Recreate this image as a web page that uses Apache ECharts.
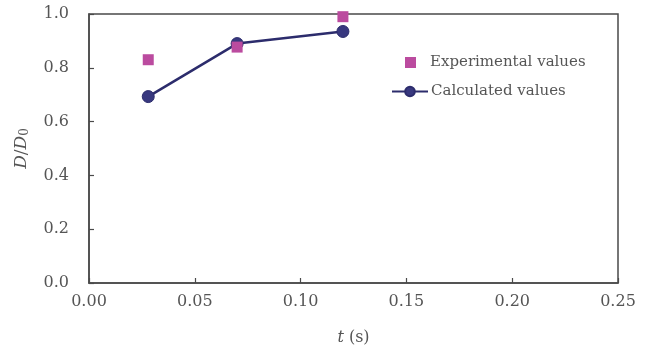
<!DOCTYPE html>
<html>
<head>
<meta charset="utf-8">
<script src="https://cdn.jsdelivr.net/npm/echarts@6/dist/echarts.min.js"></script>
<style>html,body{margin:0;padding:0;background:#fff;}#chart{width:648px;height:351px;}</style>
</head>
<body>
<div id="chart"></div>
<script>
const tValues = [0.028, 0.07, 0.12];
const experimental = [0.83, 0.877, 0.99];
const calculated = [0.693, 0.89, 0.935];
const xTicks = [0, 0.05, 0.10, 0.15, 0.20, 0.25];
const yTicks = [0, 0.2, 0.4, 0.6, 0.8, 1.0];
const seriesNames = ['Experimental values', 'Calculated values'];

const FONT = 'DejaVu Serif';
const TXT = '#555';
const AX = '#4a4a4a';
const chart = echarts.init(document.getElementById('chart'), null, {renderer: 'canvas'});
chart.setOption({
  animation: false,
  backgroundColor: '#fff',
  grid: {left: 89, right: 30, top: 14, bottom: 68, show: true, borderColor: AX, borderWidth: 1.5, backgroundColor: 'transparent', outerBoundsMode: 'none', containLabel: false},
  xAxis: {
    type: 'value', min: xTicks[0], max: xTicks[xTicks.length - 1], interval: 0.05,
    axisLine: {lineStyle: {color: AX, width: 1.5}},
    axisTick: {inside: true, length: 5, lineStyle: {color: AX, width: 1.2}},
    splitLine: {show: false},
    axisLabel: {color: TXT, fontFamily: FONT, fontSize: 16, margin: 11, formatter: v => v.toFixed(2)},
    name: '{i|t} (s)', nameLocation: 'middle', nameGap: 47,
    nameTextStyle: {color: TXT, fontFamily: FONT, fontSize: 16, rich: {i: {fontStyle: 'italic', fontFamily: FONT, fontSize: 16, color: TXT}}}
  },
  yAxis: {
    type: 'value', min: yTicks[0], max: yTicks[yTicks.length - 1], interval: 0.2,
    axisLine: {show: true, lineStyle: {color: AX, width: 1.5}},
    axisTick: {show: true, inside: true, length: 5, lineStyle: {color: AX, width: 1.2}},
    splitLine: {show: false},
    axisLabel: {color: TXT, fontFamily: FONT, fontSize: 16, margin: 20, formatter: v => v.toFixed(1)},
    name: '{i|D}/{i|D}{s|0}', nameLocation: 'middle', nameGap: 58, nameRotate: 90,
    nameTextStyle: {color: TXT, fontFamily: FONT, fontSize: 17, rich: {
      i: {fontStyle: 'italic', fontFamily: FONT, fontSize: 17, color: TXT},
      s: {fontFamily: FONT, fontSize: 12, color: TXT, verticalAlign: 'bottom', padding: [7, 0, 0, 0]}
    }}
  },
  legend: [
    {
      data: [seriesNames[0]], left: 400, top: 50, itemWidth: 11, itemHeight: 11,
      textStyle: {color: TXT, fontFamily: FONT, fontSize: 15, padding: [0, 0, 0, 9]}
    },
    {
      data: [seriesNames[1]], left: 386, top: 79, itemWidth: 36, itemHeight: 12,
      textStyle: {color: TXT, fontFamily: FONT, fontSize: 15, padding: [0, 0, 0, -2]}
    }
  ],
  series: [
    {
      name: seriesNames[1], type: 'line', z: 2,
      data: tValues.map((t, i) => [t, calculated[i]]),
      symbol: 'circle', symbolSize: 12,
      lineStyle: {color: '#2c2c6c', width: 2.5},
      itemStyle: {color: '#38387f', borderColor: '#2c2c6c', borderWidth: 1}
    },
    {
      name: seriesNames[0], type: 'scatter', z: 3,
      data: tValues.map((t, i) => [t, experimental[i]]),
      symbol: 'rect', symbolSize: 11,
      itemStyle: {color: '#bb4b9f', opacity: 1}
    }
  ]
});
</script>
</body>
</html>
